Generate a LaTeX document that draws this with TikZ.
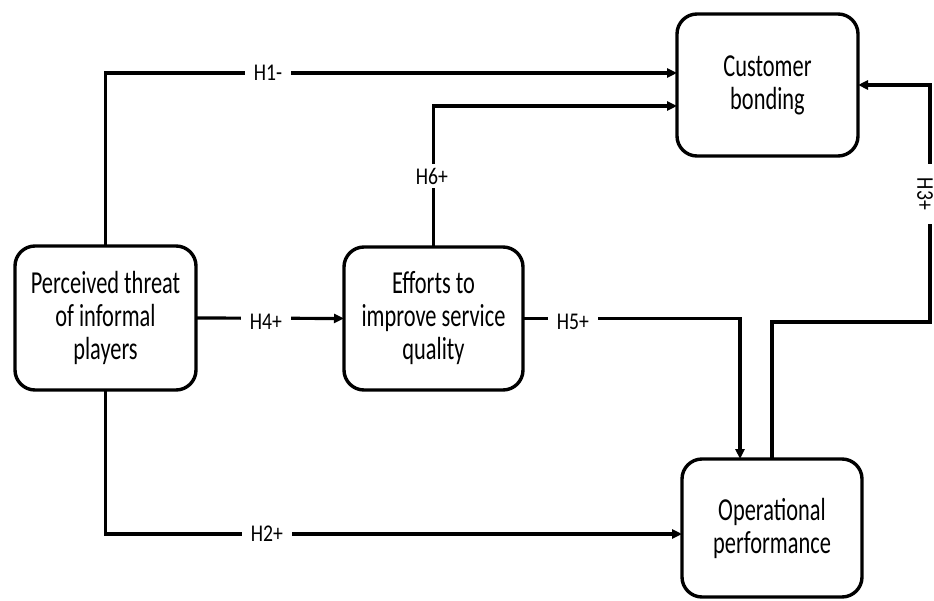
\documentclass[tikz,border=0pt]{standalone}
\usepackage{fontspec}
\setmainfont{Carlito}
\newfontfamily\boxfont[FakeStretch=0.7]{Carlito}
\newfontfamily\labfont[FakeStretch=0.82]{Carlito}
\usetikzlibrary{arrows.meta}
\begin{document}
\begin{tikzpicture}[x=1pt,y=-1pt,
  stepbox/.style={draw=black, line width=3.4pt, rounded corners=20pt, fill=white,
    align=center, outer sep=0pt, inner sep=0pt,
    font=\boxfont\fontsize{32}{33}\selectfont},
  conn/.style={draw=black, line width=3.2pt, -{Triangle[length=10pt,width=9pt]}},
  lab/.style={fill=white, inner xsep=9pt, inner ysep=4pt,
    font=\labfont\fontsize{24}{26}\selectfont}]
\useasboundingbox (0,0) rectangle (934,601);

\node[stepbox, minimum width=181pt, minimum height=144pt] (pt) at (105.5,318) {Perceived threat\\of informal\\players};
\node[stepbox, minimum width=179pt, minimum height=143pt] (ef) at (433.5,318.5) {Efforts to\\improve service\\quality};
\node[stepbox, minimum width=181pt, minimum height=142pt] (cb) at (767.5,85) {Customer\\bonding};
\node[stepbox, minimum width=180pt, minimum height=138pt] (op) at (772,528) {Operational\\performance};

\coordinate (c3) at (930,322);

% H1
\draw[conn] (pt.north) |- ([yshift=12pt]cb.west);
% H6
\draw[conn] (ef.north) |- ([yshift=-21pt]cb.west);
% H4
\draw[conn] (pt.east) -- (ef.west);
% H5
\draw[conn] (ef.east) -| ([xshift=-32pt]op.north);
% H2
\draw[conn] (pt.south) |- ([yshift=-6pt]op.west);
% H3
\draw[conn] (op.north) |- (c3) |- (cb.east);

\node[lab] (l1) at (268,73) {H1-};
\node[lab] (l6) at (432,176) {H6+};
\node[lab] (l4) at (266,322) {H4+};
\node[lab] (l5) at (573,322) {H5+};
\node[lab] (l2) at (267,534) {H2+};
\node[lab, rotate=-90, inner xsep=14pt, inner ysep=2pt] (l3) at (925,194) {H3+};
\end{tikzpicture}
\end{document}
